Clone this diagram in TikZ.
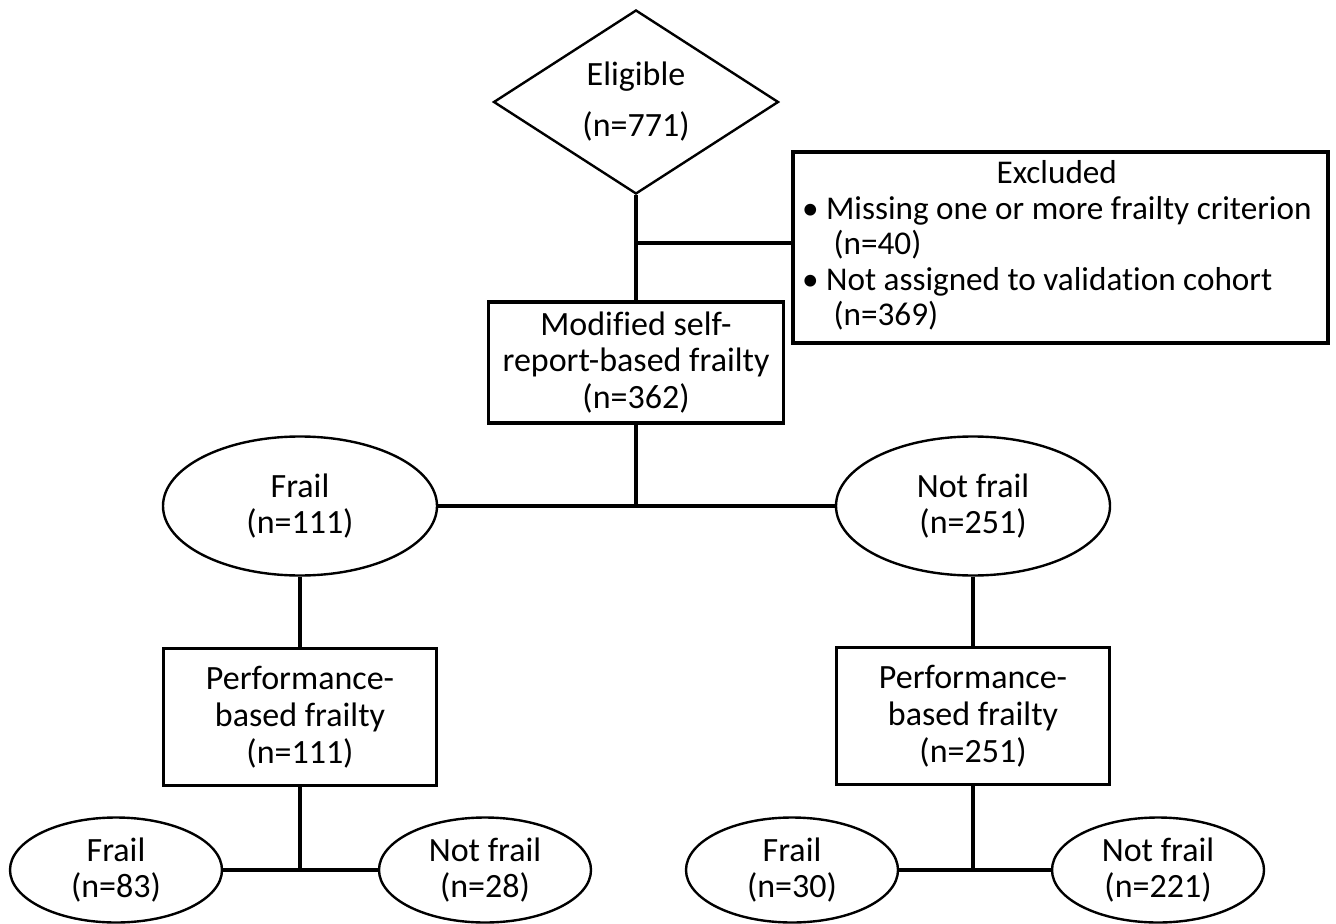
\documentclass[tikz,border=0pt]{standalone}
\usepackage{fontspec}
\setmainfont[Ligatures=NoCommon]{Carlito}
\usepackage{tikz}
\usetikzlibrary{shapes.geometric}
\tikzstyle{flowbox} = [draw=black, line width=1.6pt, fill=white,
rectangle, align=center, inner sep=0pt, font=\fontsize{17}{18.4}\selectfont]
\tikzstyle{flowoval} = [draw=black, line width=1.2pt, fill=white,
ellipse, align=center, inner sep=0pt, font=\fontsize{17}{18.4}\selectfont]
\tikzstyle{flowdiamond} = [draw=black, line width=1.2pt, fill=white,
diamond, aspect=1.55, align=center, inner sep=0pt, font=\fontsize{17}{25.5}\selectfont]
\tikzstyle{link} = [draw=black, line width=2pt]

\begin{document}
\begin{tikzpicture}[x=0.5pt, y=-0.5pt]
        \useasboundingbox (0,0) rectangle (1336,924);
        % top of the chart
        \node [flowdiamond, minimum width=142.5pt, minimum height=92pt] (elig) at (636,102) {Eligible\\(n=771)};
        \node [flowbox, minimum width=267.5pt, minimum height=95.5pt, font=\fontsize{16.6}{17.75}\selectfont] (excl) at (1060.5,247.5) {%
            \begin{tabular}{@{}l@{}}
                \multicolumn{1}{@{}c@{}}{Excluded}\\
                \textbullet\ Missing one or more frailty criterion\\
                \hspace*{0.95em}(n=40)\\
                \textbullet\ Not assigned to validation cohort\\
                \hspace*{0.95em}(n=369)
            \end{tabular}
        };
        \node [flowbox, minimum width=147.5pt, minimum height=60.5pt] (selfrep) at (636,362.5) {Modified self-\\report-based frailty\\(n=362)};
        % second level
        \node [flowoval, minimum width=137pt, minimum height=69.5pt] (frailA) at (300,506) {Frail\\(n=111)};
        \node [flowoval, minimum width=137pt, minimum height=69.5pt] (nfrailA) at (973,506) {Not frail\\(n=251)};
        \node [flowbox, minimum width=136.5pt, minimum height=68.5pt] (perfA) at (300,717) {Performance-\\based frailty\\(n=111)};
        \node [flowbox, minimum width=136.5pt, minimum height=68.5pt] (perfB) at (973,716) {Performance-\\based frailty\\(n=251)};
        % bottom row
        \node [flowoval, minimum width=106pt, minimum height=52.5pt] (frailAA) at (116,870) {Frail\\(n=83)};
        \node [flowoval, minimum width=106pt, minimum height=52.5pt] (nfrailAB) at (485,870) {Not frail\\(n=28)};
        \node [flowoval, minimum width=106pt, minimum height=52.5pt] (frailBA) at (792,870) {Frail\\(n=30)};
        \node [flowoval, minimum width=106pt, minimum height=52.5pt] (nfrailBB) at (1158,870) {Not frail\\(n=221)};
        % connectors
        \coordinate (exjoin) at (636,243);
        \draw [link] (elig.south) -- (selfrep.north);
        \draw [link] (exjoin) -- (exjoin -| excl.west);
        \draw [link] (selfrep.south) -- (selfrep.south |- frailA.east);
        \draw [link] (frailA.east) -- (nfrailA.west);
        \draw [link] (frailA.south) -- (perfA.north);
        \draw [link] (nfrailA.south) -- (perfB.north);
        \draw [link] (perfA.south) -- (perfA.south |- frailAA.east);
        \draw [link] (frailAA.east) -- (nfrailAB.west);
        \draw [link] (perfB.south) -- (perfB.south |- frailBA.east);
        \draw [link] (frailBA.east) -- (nfrailBB.west);
    \end{tikzpicture}
\end{document}
